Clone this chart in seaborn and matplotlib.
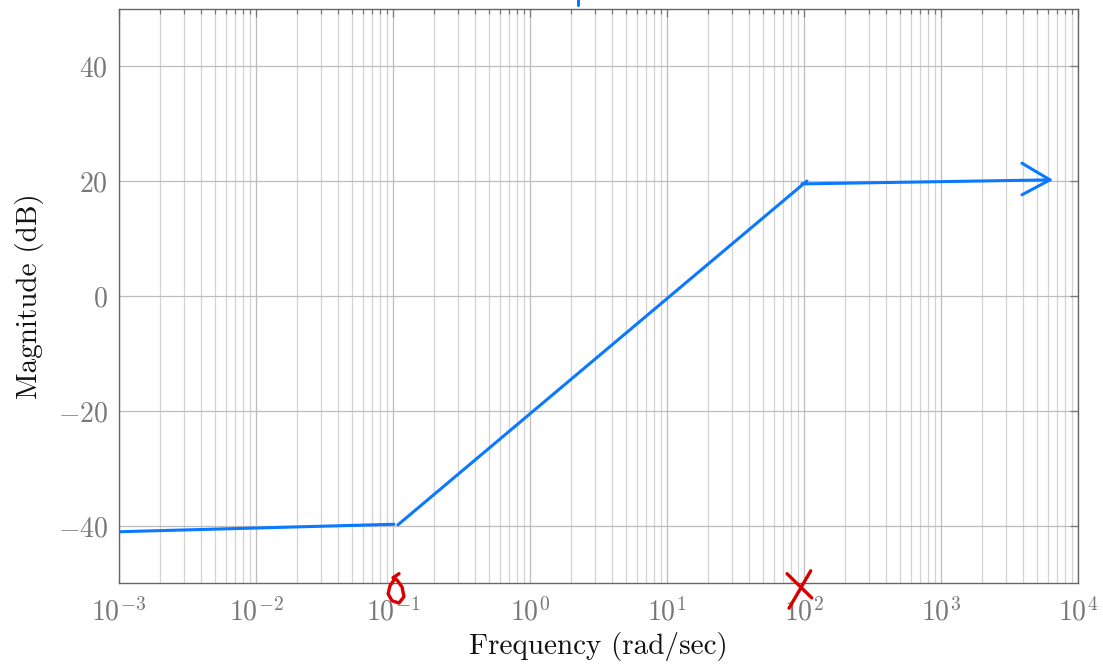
import numpy as np
import pandas as pd
import matplotlib
matplotlib.use("Agg")
import matplotlib.pyplot as plt
import seaborn as sns
from matplotlib.ticker import FuncFormatter, LogLocator, FixedLocator

# Du lieu doc tu hinh (xap xi)
seg_id = [0, 0, 1, 1, 2, 2]
freq = [0.001, 0.1016, 0.1086, 105.0, 96.6, 6250.0]
mag = [-41.0, -39.7, -39.8, 20.0, 19.5, 20.2]

arrow_freq = [3900.0, 6250.0, 3900.0]
arrow_mag = [23.1, 20.2, 17.6]

# dau "o" (zero) va dau "x" (pole) viet tay
zero_logf = [-0.993, -1.022, -1.036, -1.007, -0.956, -0.920, -0.934, -0.971, -1.000, -0.956]
zero_mag = [-49.4, -50.4, -51.8, -53.0, -53.4, -52.3, -50.6, -49.4, -49.0, -48.3]
pole_a_freq = [75.2, 114.0]
pole_a_mag = [-48.3, -52.5]
pole_b_freq = [112.0, 77.8]
pole_b_mag = [-47.8, -54.3]

top_mark_freq = [2.24, 2.24]
top_mark_mag = [50.6, 51.6]

y_ticks = [-40, -20, 0, 20, 40]
x_decades = [-3, -2, -1, 0, 1, 2, 3, 4]

BLUE = '#0a78ff'
RED = '#d80000'

sns.set_theme(style='white')
plt.rcParams['font.family'] = ['cmr10', 'DejaVu Serif']
plt.rcParams['mathtext.fontset'] = 'cm'
plt.rcParams['axes.unicode_minus'] = False

fig = plt.figure(figsize=(11.03, 6.66), dpi=100)
ax = fig.add_axes([0.1079, 0.1239, 0.8694, 0.8633])

df = pd.DataFrame({'seg': seg_id, 'freq': freq, 'mag': mag})
sns.lineplot(data=df, x='freq', y='mag', units='seg', estimator=None,
             color=BLUE, linewidth=2.2, ax=ax, legend=False)
ax.plot(arrow_freq, arrow_mag, color=BLUE, linewidth=2.2)
ax.plot(top_mark_freq, top_mark_mag, color=BLUE, linewidth=2.2, clip_on=False)

ax.plot(10 ** np.array(zero_logf), zero_mag, color=RED, linewidth=2.4,
        clip_on=False, solid_capstyle='round', solid_joinstyle='round', zorder=5)
ax.plot(pole_a_freq, pole_a_mag, color=RED, linewidth=2.4, clip_on=False, zorder=5)
ax.plot(pole_b_freq, pole_b_mag, color=RED, linewidth=2.4, clip_on=False, zorder=5)

ax.set_xscale('log')
ax.set_xlim(1e-3, 1e4)
ax.set_ylim(-50, 50)

ax.xaxis.set_major_locator(FixedLocator([10.0 ** d for d in x_decades]))
ax.xaxis.set_minor_locator(LogLocator(base=10, subs=np.arange(2, 10), numticks=100))
ax.xaxis.set_major_formatter(FuncFormatter(lambda v, p: r'$10^{%d}$' % round(np.log10(v))))
ax.yaxis.set_major_locator(FixedLocator(y_ticks))
ax.yaxis.set_major_formatter(FuncFormatter(lambda v, p: r'$%d$' % v))

ax.grid(True, which='major', color='#bdbdbd', linewidth=0.9)
ax.grid(True, which='minor', axis='x', color='#d2d2d2', linewidth=0.9)
ax.set_axisbelow(True)

ax.tick_params(which='both', direction='in', top=True, right=True,
               color='#777777', labelcolor='#777777', labelsize=20)
ax.tick_params(which='major', length=6, width=0.9)
ax.tick_params(which='minor', length=3.5, width=0.9)
ax.tick_params(axis='x', which='major', pad=10)
ax.tick_params(axis='y', which='major', pad=8)
for s in ax.spines.values():
    s.set_color('#666666')
    s.set_linewidth(1.0)

ax.set_xlabel('Frequency (rad/sec)', fontsize=21, color='#111111', labelpad=4)
ax.set_ylabel('Magnitude (dB)', fontsize=21, color='#111111', labelpad=10)

fig.savefig('out.png', dpi=100)
